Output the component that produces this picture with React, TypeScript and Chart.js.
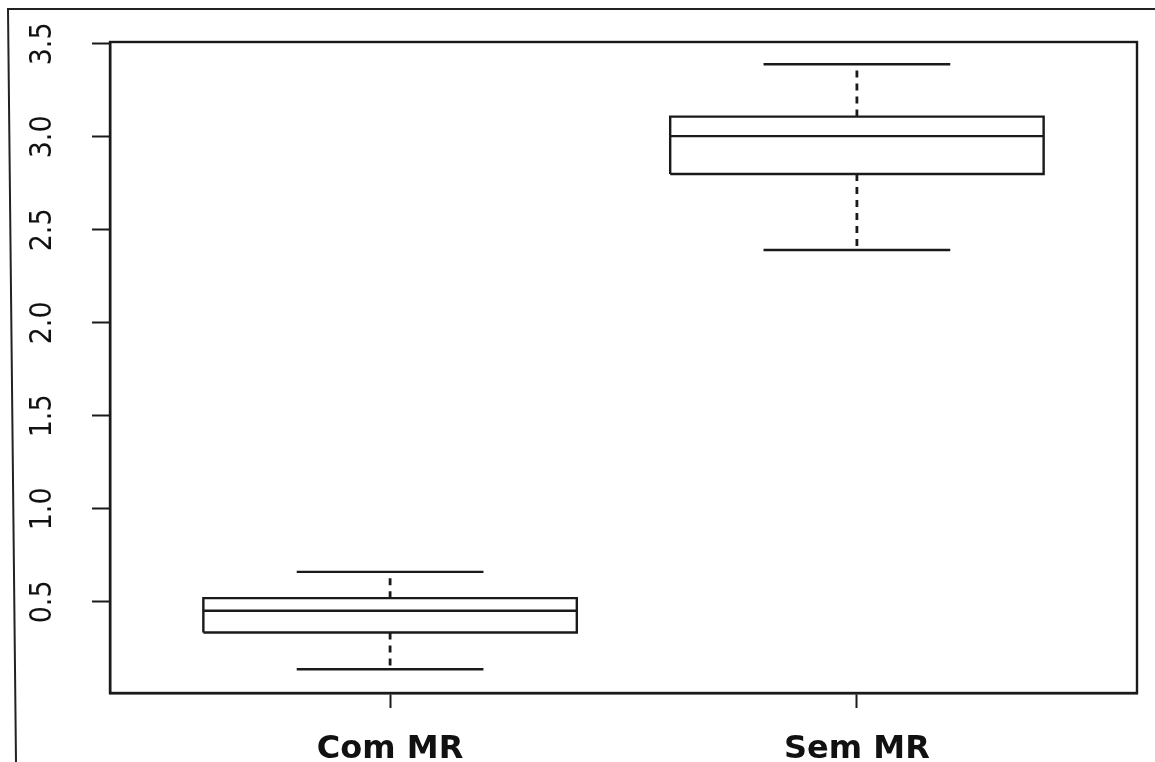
import React, { useEffect, useRef } from 'react';
import { Chart, registerables } from 'chart.js';

Chart.register(...registerables);

// ---- data ----
const categories = ['Com MR', 'Sem MR'];
const positions = [1, 2];
const whiskerLow = [0.138, 2.392];
const quartile1 = [0.335, 2.8];
const medians = [0.452, 3.004];
const quartile3 = [0.52, 3.109];
const whiskerHigh = [0.661, 3.39];
const yTickValues = [0.5, 1.0, 1.5, 2.0, 2.5, 3.0, 3.5];
const xRange = [0.4, 2.6];
const yRange = [0.01, 3.51];
const boxWidth = 0.8;

const INK = '#1a1a1a';

function buildDatasets() {
  const ds: any[] = [];
  const base = {
    type: 'line',
    borderColor: INK,
    borderWidth: 2.4,
    pointRadius: 0,
    pointHoverRadius: 0,
    fill: false,
    tension: 0,
    borderCapStyle: 'butt',
    borderJoinStyle: 'miter',
  };
  positions.forEach((c, i) => {
    const h = boxWidth / 2;
    const s = boxWidth / 4;
    ds.push({
      ...base,
      label: categories[i] + ' box',
      data: [
        { x: c - h, y: quartile1[i] },
        { x: c + h, y: quartile1[i] },
        { x: c + h, y: quartile3[i] },
        { x: c - h, y: quartile3[i] },
        { x: c - h, y: quartile1[i] },
      ],
    });
    ds.push({
      ...base,
      label: categories[i] + ' median',
      data: [
        { x: c - h, y: medians[i] },
        { x: c + h, y: medians[i] },
      ],
    });
    ds.push({
      ...base,
      label: categories[i] + ' lower whisker',
      borderDash: [7, 6],
      borderWidth: 2.8,
      data: [
        { x: c, y: quartile1[i] },
        { x: c, y: whiskerLow[i] },
      ],
    });
    ds.push({
      ...base,
      label: categories[i] + ' upper whisker',
      borderDash: [7, 6],
      borderWidth: 2.8,
      data: [
        { x: c, y: quartile3[i] },
        { x: c, y: whiskerHigh[i] },
      ],
    });
    ds.push({
      ...base,
      label: categories[i] + ' lower cap',
      data: [
        { x: c - s, y: whiskerLow[i] },
        { x: c + s, y: whiskerLow[i] },
      ],
    });
    ds.push({
      ...base,
      label: categories[i] + ' upper cap',
      data: [
        { x: c - s, y: whiskerHigh[i] },
        { x: c + s, y: whiskerHigh[i] },
      ],
    });
  });
  return ds;
}

const framePlugin = {
  id: 'frame',
  beforeDraw(chart: any) {
    const ctx = chart.ctx;
    ctx.save();
    ctx.fillStyle = '#ffffff';
    ctx.fillRect(0, 0, chart.width, chart.height);
    // outer figure border (top and left)
    ctx.strokeStyle = '#222';
    ctx.lineWidth = 2;
    ctx.beginPath();
    ctx.moveTo(1155, 9);
    ctx.lineTo(8, 9);
    ctx.lineTo(16, 762);
    ctx.stroke();
    ctx.restore();
  },
  afterDraw(chart: any) {
    const { ctx, chartArea } = chart;
    ctx.save();
    ctx.strokeStyle = INK;
    ctx.lineWidth = 2.4;
    ctx.strokeRect(
      chartArea.left,
      chartArea.top,
      chartArea.right - chartArea.left,
      chartArea.bottom - chartArea.top
    );
    ctx.restore();
  },
};

export default function App() {
  const ref = useRef<HTMLCanvasElement | null>(null);

  useEffect(() => {
    if (!ref.current) return;
    const chart = new Chart(ref.current, {
      type: 'scatter',
      data: { datasets: buildDatasets() },
      options: {
        animation: false,
        responsive: false,
        maintainAspectRatio: false,
        events: [],
        layout: { padding: { top: 42, right: 18, left: 0, bottom: 0 } },
        plugins: {
          legend: { display: false },
          tooltip: { enabled: false },
          title: { display: false },
        },
        scales: {
          x: {
            type: 'linear',
            min: xRange[0],
            max: xRange[1],
            afterBuildTicks: (scale: any) => {
              scale.ticks = positions.map((v) => ({ value: v }));
            },
            afterFit: (scale: any) => {
              scale.height = 69;
              scale.paddingLeft = 0;
              scale.paddingRight = 0;
            },
            grid: {
              display: true,
              drawOnChartArea: false,
              drawTicks: true,
              tickLength: 15,
              tickWidth: 2,
              tickColor: INK,
            },
            border: { display: true, color: INK, width: 2.4 },
            ticks: {
              autoSkip: false,
              maxRotation: 0,
              minRotation: 0,
              padding: 22,
              color: '#111',
              font: { family: '"DejaVu Sans", "Liberation Sans", sans-serif', size: 32, weight: 'bold' },
              callback: (v: any) => {
                const idx = positions.indexOf(Number(v));
                return idx >= 0 ? categories[idx] : '';
              },
            },
          },
          y: {
            type: 'linear',
            min: yRange[0],
            max: yRange[1],
            afterBuildTicks: (scale: any) => {
              scale.ticks = yTickValues.map((v) => ({ value: v }));
            },
            afterFit: (scale: any) => {
              scale.width = 110;
              scale.paddingTop = 0;
              scale.paddingBottom = 0;
            },
            grid: {
              display: true,
              drawOnChartArea: false,
              drawTicks: true,
              tickLength: 18,
              tickWidth: 2,
              tickColor: INK,
            },
            border: { display: true, color: INK, width: 2.4 },
            ticks: {
              autoSkip: false,
              minRotation: 90,
              maxRotation: 90,
              crossAlign: 'center',
              padding: 27,
              color: '#111',
              font: { family: '"Liberation Sans Narrow", "Arial Narrow", "DejaVu Sans Condensed", sans-serif', size: 30 },
              callback: (v: any) => Number(v).toFixed(1),
            },
          },
        },
      } as any,
      plugins: [framePlugin],
    });
    return () => chart.destroy();
  }, []);

  return (
    <div style={{ position: 'fixed', left: 0, top: 0, width: 1155, height: 762, background: '#fff' }}>
      <canvas ref={ref} width={1155} height={762} style={{ display: 'block', width: 1155, height: 762 }} />
    </div>
  );
}
